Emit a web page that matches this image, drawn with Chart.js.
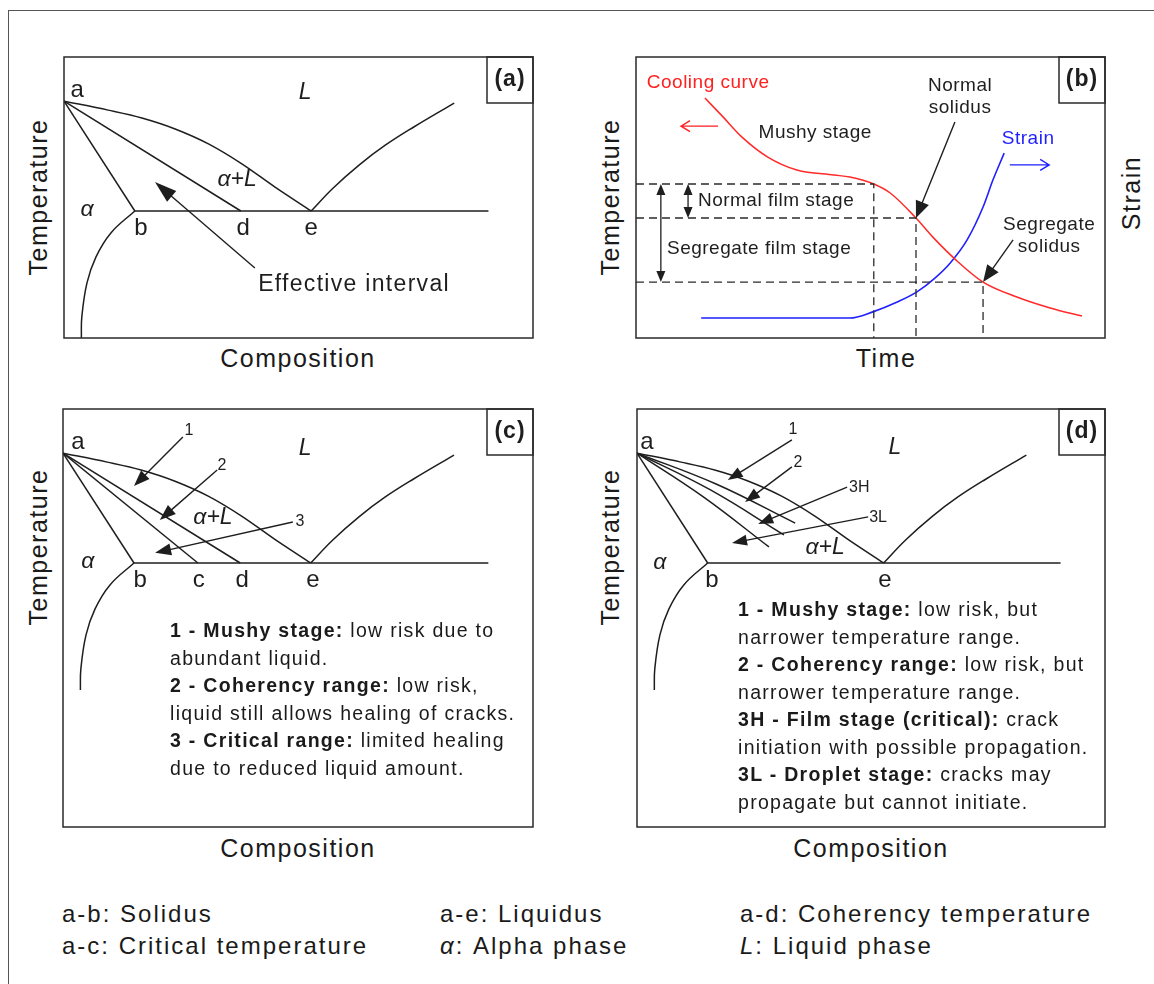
<!DOCTYPE html>
<html>
<head>
<meta charset="utf-8">
<script src="https://cdn.jsdelivr.net/npm/chart.js@4.4.1/dist/chart.umd.min.js"></script>
<style>
  html, body { margin: 0; padding: 0; background: #fff; }
  body { width: 1154px; height: 984px; position: relative; overflow: hidden;
         font-family: "Liberation Sans", Arial, sans-serif; color: #1a1a1a; }
  .frame { position: absolute; left: 8px; top: 10px; width: 1200px; height: 1000px;
           border: 1.5px solid #555; box-sizing: border-box; }
  canvas { position: absolute; }
  .ttl { position: absolute; font-size: 25px; letter-spacing: 1.5px; white-space: nowrap;
         transform: translate(-50%, -50%); }
  .rot { transform: translate(-50%, -50%) rotate(-90deg); }
  .notes { position: absolute; font-size: 19.5px; line-height: 27.5px; letter-spacing: 1.3px;
           white-space: nowrap; }
  .legend { position: absolute; font-size: 24px; letter-spacing: 2px; white-space: nowrap;
            transform: translateY(-50%); }
</style>
</head>
<body>
<div class="frame"></div>

<canvas id="chartA" width="473" height="285" style="left:62px;top:55px"></canvas>
<canvas id="chartB" width="473" height="285" style="left:634px;top:55px"></canvas>
<canvas id="chartC" width="474" height="422" style="left:61px;top:407px"></canvas>
<canvas id="chartD" width="472" height="422" style="left:635px;top:407px"></canvas>

<div class="ttl rot" style="left:38px;top:197px">Temperature</div>
<div class="ttl" style="left:298px;top:358px">Composition</div>
<div class="ttl rot" style="left:610px;top:197px">Temperature</div>
<div class="ttl" style="left:886px;top:358px">Time</div>
<div class="ttl rot" style="left:1131px;top:193px">Strain</div>
<div class="ttl rot" style="left:38px;top:547px">Temperature</div>
<div class="ttl" style="left:298px;top:848px">Composition</div>
<div class="ttl rot" style="left:610px;top:547px">Temperature</div>
<div class="ttl" style="left:871px;top:848px">Composition</div>

<div id="notesC" class="notes" style="left:170px;top:617px"></div>
<div id="notesD" class="notes" style="left:738px;top:596px"></div>
<div id="legend"></div>

<script>
// ---------- Phase diagram (composition %, temperature in arbitrary units) ----------
const meltT = 84.3;          // melting point of the pure metal (point a)
const eutecticT = 45.2;      // eutectic isotherm b-e
const compB = 15.1, compC = 28.7, compD = 37.7, compE = 52.7;
const eutecticEnd = 90.5;

const liquidusLeftX  = [0, 9.4, 16.6, 23.7, 30.9, 38.0, 45.0, 52.7];
const liquidusLeftY  = [84.3, 81.1, 78.3, 74.4, 69.0, 61.9, 53.7, 45.2];
const liquidusRightX = [52.7, 57.4, 63.1, 68.5, 74.5, 83.2];
const liquidusRightY = [45.2, 53.4, 61.8, 68.6, 75.0, 83.6];
const solvusX = [15.1, 10.0, 6.8, 4.9, 3.8, 3.7];
const solvusY = [45.2, 37.4, 28.8, 19.6, 7.5, 0];

// Intermediate isotherm curves of panel (d): [mid x, mid y, end x, end y]
const stageCurvesD = [
  [16.9, 73.3, 33.8, 59.4],
  [15.7, 71.2, 31.4, 55.2],
  [14.1, 68.8, 28.2, 50.9]
];

// ---------- Cooling curve and strain vs time (panel b) ----------
const coolTime = [14.7, 18.6, 22.6, 28.1, 34.3, 42.2, 45.6, 50.7, 54.2, 59.7, 63.3, 68.2, 74.0, 81.2, 88.3, 95.1];
const coolTemp = [85.4, 78.6, 71.5, 64.4, 59.8, 58.0, 57.3, 54.8, 51.6, 42.7, 35.9, 27.8, 19.9, 14.6, 10.7, 7.8];
const strainTime = [13.9, 45.6, 50.5, 55.7, 59.9, 63.8, 67.0, 70.6, 74.0, 76.1, 78.5];
const strainVal  = [7.1, 7.1, 9.3, 12.8, 16.4, 21.4, 26.7, 34.9, 46.6, 56.2, 65.8];
// [time, temperature] of film start, normal solidus, segregate solidus
const filmStart = [50.7, 54.8];
const normalSolidus = [59.7, 42.7];
const segregateSolidus = [74.0, 19.9];

// ---------- Annotation text: [text, x, y, style] ----------
const labelsA = [
  ['a', 2.8, 88.3, 'pt'], ['b', 16.4, 39.1, 'pt'], ['d', 38.2, 39.1, 'pt'], ['e', 52.7, 39.1, 'pt'],
  ['L', 51.4, 87.5, 'phase'], ['α+L', 36.9, 56.2, 'phase'], ['α', 4.9, 45.6, 'phase'],
  ['Effective interval', 41.4, 18.9, 'big']
];
const labelsB = [
  ['Cooling curve', 2.3, 90.7, 'red'], ['Mushy stage', 38.2, 73.0, 'mid'],
  ['Normal', 69.1, 89.7, 'mid'], ['solidus', 69.1, 81.9, 'mid'],
  ['Strain', 78.0, 70.8, 'blue'],
  ['Segregate', 88.1, 40.2, 'mid'], ['solidus', 88.1, 32.4, 'mid'],
  ['Normal film stage', 13.2, 48.8, 'left'], ['Segregate film stage', 6.6, 31.7, 'left']
];
const labelsC = [
  ['a', 3.2, 88.3, 'pt'], ['b', 16.4, 39.1, 'pt'], ['c', 28.9, 39.1, 'pt'], ['d', 38.1, 39.1, 'pt'], ['e', 53.2, 39.1, 'pt'],
  ['L', 51.5, 85.8, 'phase'], ['α+L', 31.9, 61.2, 'phase'], ['α', 5.3, 45.6, 'phase'],
  ['1', 26.8, 92.2, 'num'], ['2', 33.8, 79.7, 'num'], ['3', 50.4, 59.8, 'num']
];
const labelsD = [
  ['a', 2.1, 88.3, 'pt'], ['b', 16.0, 39.1, 'pt'], ['e', 53.0, 39.1, 'pt'],
  ['L', 55.1, 86.1, 'phase'], ['α+L', 40.2, 50.5, 'phase'], ['α', 4.9, 45.2, 'phase'],
  ['1', 33.3, 92.6, 'num'], ['2', 34.4, 81.1, 'num'], ['3H', 45.3, 72.2, 'numL'], ['3L', 49.6, 61.2, 'numL']
];

// ---------- Pointer arrows: [tail x, tail y, tip x, tip y] ----------
const arrowsA = [[40.7, 24.9, 19.4, 55.5]];
const arrowsC = [[25.5, 90.0, 15.1, 72.6], [32.8, 78.3, 20.6, 60.5], [48.9, 59.8, 19.6, 48.8]];
const arrowsD = [[33.1, 89.0, 19.4, 74.7], [33.1, 79.4, 23.1, 66.9], [44.9, 72.2, 25.9, 59.1], [49.4, 61.6, 20.3, 52.3]];
const arrowsB = [[68.0, 76.9, normalSolidus[0], normalSolidus[1]], [80.4, 34.9, segregateSolidus[0], segregateSolidus[1]]];
const axisArrowsB = [[17.5, 75.4, 9.6, 75.4, '#ff2020'], [79.7, 61.6, 88.1, 61.6, '#1f1fff']];
const rangeArrowsB = [[11.1, filmStart[1], normalSolidus[1]], [5.3, filmStart[1], segregateSolidus[1]]];

// ---------- Notes and legend ----------
const notesC = [
  ['1 - Mushy stage:', ' low risk due to'], ['', 'abundant liquid.'],
  ['2 - Coherency range:', ' low risk,'], ['', 'liquid still allows healing of cracks.'],
  ['3 - Critical range:', ' limited healing'], ['', 'due to reduced liquid amount.']
];
const notesD = [
  ['1 - Mushy stage:', ' low risk, but'], ['', 'narrower temperature range.'],
  ['2 - Coherency range:', ' low risk, but'], ['', 'narrower temperature range.'],
  ['3H - Film stage (critical):', ' crack'], ['', 'initiation with possible propagation.'],
  ['3L - Droplet stage:', ' cracks may'], ['', 'propagate but cannot initiate.']
];
const legendItems = [
  ['a-b', ': Solidus'], ['a-e', ': Liquidus'], ['a-d', ': Coherency temperature'],
  ['a-c', ': Critical temperature'], ['α', ': Alpha phase'], ['L', ': Liquid phase']
];

// ---------- helpers ----------
const FONT = '"Liberation Sans", Arial, sans-serif';
const INK = '#1e1e1e';
const textStyles = {
  pt:    { font: `24px ${FONT}`, align: 'center', color: INK },
  phase: { font: `italic 23px ${FONT}`, align: 'center', color: INK },
  big:   { font: `23px ${FONT}`, align: 'left', color: INK, ls: '1.3px' },
  num:   { font: `16px ${FONT}`, align: 'center', color: INK },
  numL:  { font: `16px ${FONT}`, align: 'left', color: INK },
  red:   { font: `19px ${FONT}`, align: 'left', color: '#ff2020', ls: '0.5px' },
  blue:  { font: `19px ${FONT}`, align: 'left', color: '#1f1fff', ls: '0.5px' },
  mid:   { font: `19px ${FONT}`, align: 'center', color: INK, ls: '0.5px' },
  left:  { font: `19px ${FONT}`, align: 'left', color: INK, ls: '0.5px' }
};

const pts = (xs, ys) => xs.map((x, i) => ({ x, y: ys[i] }));
const line = (data, extra) => Object.assign({
  data, showLine: true, borderColor: INK, borderWidth: 1.5, pointRadius: 0, fill: false, tension: 0
}, extra || {});

function phaseDatasets(withCoherency, withCritical, extraCurves) {
  const ds = [
    line(pts(liquidusLeftX, liquidusLeftY), { cubicInterpolationMode: 'monotone' }),
    line(pts(liquidusRightX, liquidusRightY), { tension: 0.4 }),
    line(pts(solvusX, solvusY), { tension: 0.4 }),
    line([{ x: compB, y: eutecticT }, { x: eutecticEnd, y: eutecticT }]),
    line([{ x: 0, y: meltT }, { x: compB, y: eutecticT }])
  ];
  if (withCoherency) ds.push(line([{ x: 0, y: meltT }, { x: compD, y: eutecticT }]));
  if (withCritical) ds.push(line([{ x: 0, y: meltT }, { x: compC, y: eutecticT }]));
  (extraCurves || []).forEach(c => ds.push(line([{ x: 0, y: meltT }, { x: c[0], y: c[1] }, { x: c[2], y: c[3] }], { tension: 0.4 })));
  return ds;
}

function drawText(ctx, t, x, y, s) {
  ctx.save();
  ctx.font = s.font; ctx.fillStyle = s.color; ctx.textAlign = s.align; ctx.textBaseline = 'middle';
  if ('letterSpacing' in ctx) ctx.letterSpacing = s.ls || '0px';
  ctx.fillText(t, x, y);
  ctx.restore();
}

function filledArrow(ctx, x0, y0, x1, y1, len, half) {
  const a = Math.atan2(y1 - y0, x1 - x0), c = Math.cos(a), s = Math.sin(a);
  const bx = x1 - len * c, by = y1 - len * s;
  ctx.beginPath(); ctx.moveTo(x0, y0); ctx.lineTo(bx + c, by + s); ctx.stroke();
  ctx.beginPath(); ctx.moveTo(x1, y1);
  ctx.lineTo(bx + half * s, by - half * c); ctx.lineTo(bx - half * s, by + half * c);
  ctx.closePath(); ctx.fill();
}

function openArrow(ctx, x0, y0, x1, y1, len, half) {
  const a = Math.atan2(y1 - y0, x1 - x0), c = Math.cos(a), s = Math.sin(a);
  const bx = x1 - len * c, by = y1 - len * s;
  ctx.beginPath(); ctx.moveTo(x0, y0); ctx.lineTo(x1, y1);
  ctx.moveTo(bx + half * s, by - half * c); ctx.lineTo(x1, y1); ctx.lineTo(bx - half * s, by + half * c);
  ctx.stroke();
}

// Frame, panel tag, labels and arrows drawn on top of the datasets
function decor(cfg) {
  return {
    id: 'decor',
    afterDatasetsDraw(chart) {
      const { ctx, chartArea: ca, scales } = chart;
      const X = v => scales.x.getPixelForValue(v), Y = v => scales.y.getPixelForValue(v);
      ctx.save();
      ctx.strokeStyle = '#2a2a2a'; ctx.fillStyle = INK; ctx.lineWidth = 1.5;
      ctx.strokeRect(ca.left, ca.top, ca.right - ca.left, ca.bottom - ca.top);
      ctx.strokeRect(ca.right - 46, ca.top, 46, 46);
      drawText(ctx, cfg.tag, ca.right - 23, ca.top + 23, { font: `bold 23px ${FONT}`, align: 'center', color: INK, ls: '1px' });

      ctx.strokeStyle = INK; ctx.fillStyle = INK; ctx.lineWidth = 1.4;
      (cfg.arrows || []).forEach(a => filledArrow(ctx, X(a[0]), Y(a[1]), X(a[2]), Y(a[3]), cfg.head[0], cfg.head[1]));

      if (cfg.axisArrows) cfg.axisArrows.forEach(a => {
        ctx.strokeStyle = a[4]; ctx.lineWidth = 1.4;
        openArrow(ctx, X(a[0]), Y(a[1]), X(a[2]), Y(a[3]), 9, 5.5);
      });
      if (cfg.rangeArrows) cfg.rangeArrows.forEach(r => {
        ctx.strokeStyle = INK; ctx.fillStyle = INK; ctx.lineWidth = 1.3;
        const x = X(r[0]), y0 = Y(r[1]), y1 = Y(r[2]), m = (y0 + y1) / 2;
        filledArrow(ctx, x, m, x, y0, 11, 4.5);
        filledArrow(ctx, x, m, x, y1, 11, 4.5);
      });
      (cfg.labels || []).forEach(l => drawText(ctx, l[0], X(l[1]), Y(l[2]), textStyles[l[3]]));
      ctx.restore();
    }
  };
}

function makeChart(id, datasets, yMin, cfg, withY2) {
  const scales = {
    x: { type: 'linear', display: false, min: 0, max: 100 },
    y: { type: 'linear', display: false, min: yMin, max: 100 }
  };
  if (withY2) scales.y2 = { type: 'linear', display: false, min: yMin, max: 100, position: 'right' };
  return new Chart(document.getElementById(id), {
    type: 'scatter',
    data: { datasets },
    options: {
      responsive: false, animation: false, events: [],
      layout: { padding: 2 },
      plugins: { legend: { display: false }, tooltip: { enabled: false } },
      scales
    },
    plugins: [decor(cfg)]
  });
}

// Panel heights of (c) and (d) are larger; the temperature scale keeps the same units per pixel.
const tallMin = 100 - 100 * 418 / 281;

// (a) phase diagram with effective interval
makeChart('chartA', phaseDatasets(true, false), 0,
  { tag: '(a)', labels: labelsA, arrows: arrowsA, head: [22, 7] });

// (b) cooling curve and strain
const dash = { borderColor: '#2b2b2b', borderWidth: 1.3, borderDash: [8, 5] };
const levelLine = p => line([{ x: 0, y: p[1] }, { x: p[0], y: p[1] }, { x: p[0], y: 0 }], dash);
makeChart('chartB', [
  levelLine(filmStart), levelLine(normalSolidus), levelLine(segregateSolidus),
  line(pts(coolTime, coolTemp), { borderColor: '#ff2a2a', borderWidth: 1.5, cubicInterpolationMode: 'monotone' }),
  line(pts(strainTime, strainVal), { borderColor: '#1f1fff', borderWidth: 1.6, cubicInterpolationMode: 'monotone', yAxisID: 'y2' })
], 0, { tag: '(b)', labels: labelsB, arrows: arrowsB, head: [17, 7], axisArrows: axisArrowsB, rangeArrows: rangeArrowsB }, true);

// (c) coherency and critical temperatures
makeChart('chartC', phaseDatasets(true, true), tallMin,
  { tag: '(c)', labels: labelsC, arrows: arrowsC, head: [16, 6] });

// (d) film and droplet stages
makeChart('chartD', phaseDatasets(false, false, stageCurvesD), tallMin,
  { tag: '(d)', labels: labelsD, arrows: arrowsD, head: [15, 5.5] });

// Notes inside panels (c) and (d)
function fillNotes(id, rows) {
  const el = document.getElementById(id);
  rows.forEach((r, i) => {
    if (i) el.appendChild(document.createElement('br'));
    if (r[0]) { const b = document.createElement('b'); b.textContent = r[0]; el.appendChild(b); }
    el.appendChild(document.createTextNode(r[1]));
  });
}
fillNotes('notesC', notesC);
fillNotes('notesD', notesD);

// Legend below the panels
const legendCols = [62, 440, 740], legendRows = [914, 946];
const legendEl = document.getElementById('legend');
legendItems.forEach((it, i) => {
  const d = document.createElement('div');
  d.className = 'legend';
  d.style.left = legendCols[i % 3] + 'px';
  d.style.top = legendRows[Math.floor(i / 3)] + 'px';
  const key = document.createElement(it[0] === 'α' || it[0] === 'L' ? 'i' : 'span');
  key.textContent = it[0];
  d.appendChild(key);
  d.appendChild(document.createTextNode(it[1]));
  legendEl.appendChild(d);
});
</script>
</body>
</html>
